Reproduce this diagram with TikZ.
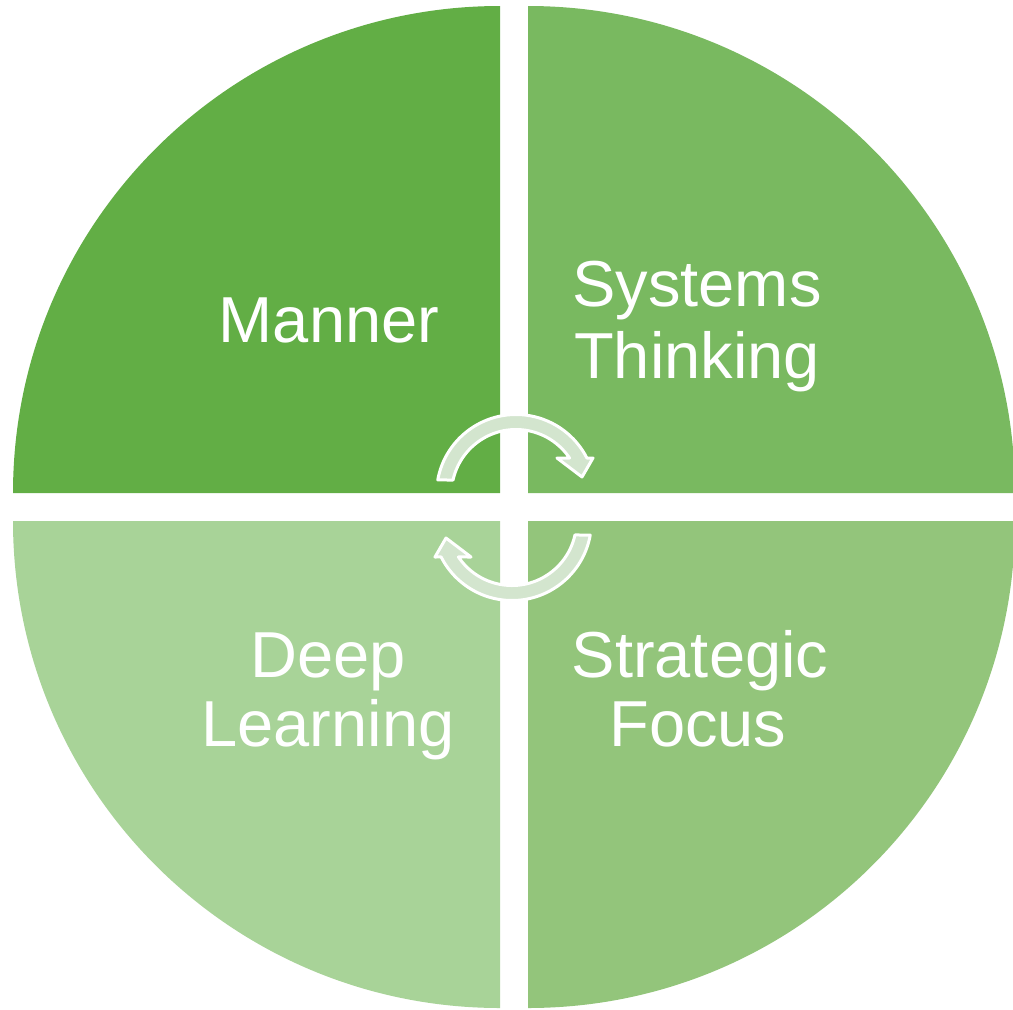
\documentclass[tikz,border=0pt]{standalone}
\usepackage{fontspec}
\setmainfont{Liberation Sans}
\definecolor{qone}{HTML}{62AE45}
\definecolor{qtwo}{HTML}{79B960}
\definecolor{qthree}{HTML}{93C57B}
\definecolor{qfour}{HTML}{A8D398}
\definecolor{cyclefill}{HTML}{D3E5CE}
\tikzset{
  quadrant/.style={draw=none},
  label/.style={text=white, anchor=base, inner sep=0pt, font=\fontsize{65}{72}\selectfont},
  cyclearrow/.style={fill=cyclefill, draw=white, line width=3pt, line join=round}
}
% one curved arrow of the cycle, around the centre (516,494)
\newcommand\turnarrow{%
  \draw[cyclearrow] ([shift={(516,494)}]190.2:79.5)
    arc[start angle=190.2, end angle=333.1, radius=79.5]
    -- (593,458) -- (582,477) -- (557,458)
    -- ([shift={(516,494)}]326.1:64.5)
    arc[start angle=326.1, end angle=192.5, radius=64.5] -- cycle;}
\begin{document}
\begin{tikzpicture}[x=1pt, y=-1pt]
  \useasboundingbox (0,0) rectangle (1013,1010);
  \begin{scope}
    \clip (0,0) rectangle (1013,1010);
    % four quarter discs separated by white gaps
    \fill[qone]   (500,493) -- ++(-487,0) arc[start angle=180, end angle=270, radius=487] -- cycle;
    \fill[qtwo]   (528,493) -- ++(0,-487) arc[start angle=270, end angle=360, radius=487] -- cycle;
    \fill[qthree] (528,521) -- ++(487,0) arc[start angle=0, end angle=90, radius=487] -- cycle;
    \fill[qfour]  (500,521) -- ++(0,487) arc[start angle=90, end angle=180, radius=487] -- cycle;
  \end{scope}
  % labels
  \node[label] (manner) at (329,342) {Manner};
  \node[label] (sys1) at (697,306.5) {Systems};
  \node[label] (sys2) at (697,378) {Thinking};
  \node[label] (deep1) at (328,677) {Deep};
  \node[label] (deep2) at (328,746) {Learning};
  \node[label] (strat1) at (700,677) {Strategic};
  \node[label] (strat2) at (698,746) {Focus};
  % cycle arrows in the middle
  \turnarrow
  \begin{scope}[rotate around={180:(514,507.5)}]
    \turnarrow
  \end{scope}
\end{tikzpicture}
\end{document}
